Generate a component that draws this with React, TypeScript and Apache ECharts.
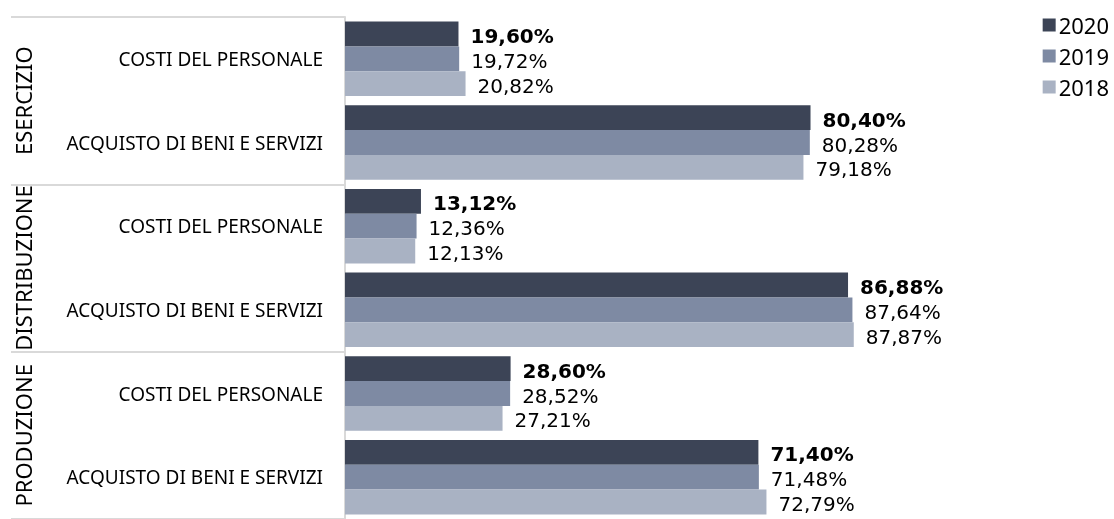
import React, { useEffect, useRef } from "react";
import * as echarts from "echarts";

const groups = ["ESERCIZIO", "DISTRIBUZIONE", "PRODUZIONE"];
const categories = [
  "COSTI DEL PERSONALE",
  "ACQUISTO DI BENI E SERVIZI",
  "COSTI DEL PERSONALE",
  "ACQUISTO DI BENI E SERVIZI",
  "COSTI DEL PERSONALE",
  "ACQUISTO DI BENI E SERVIZI",
];
const seriesNames = ["2020", "2019", "2018"];
const values2020 = [19.6, 80.4, 13.12, 86.88, 28.6, 71.4];
const values2019 = [19.72, 80.28, 12.36, 87.64, 28.52, 71.48];
const values2018 = [20.82, 79.18, 12.13, 87.87, 27.21, 72.79];
const colors = ["#3c4456", "#7e8aa3", "#a9b2c3"];

const FONT = "Noto Sans";
const LABEL_FONT = "DejaVu Sans";

export default function App() {
  const ref = useRef<HTMLDivElement>(null);
  useEffect(() => {
    const chart = echarts.init(ref.current!, null, { renderer: "svg" });
    const fmt = (p: any) => p.value.toFixed(2).replace(".", ",") + "%";
    const allValues = [values2020, values2019, values2018];
    chart.setOption({
      animation: false,
      textStyle: { fontFamily: FONT, color: "#000" },
      legend: {
        orient: "vertical",
        right: 0,
        top: 9,
        itemWidth: 13,
        itemHeight: 13,
        itemGap: 9,
        icon: "rect",
        textStyle: { fontFamily: FONT, fontSize: 22, color: "#000", padding: [0, 0, 0, -2] },
        data: seriesNames,
      },
      grid: { left: 345, top: 17, width: 579, height: 507 },
      xAxis: {
        type: "value",
        min: 0,
        max: 100,
        show: false,
      },
      yAxis: [
        {
          type: "category",
          data: categories,
          inverse: true,
          position: "left",
          axisLine: { show: true, lineStyle: { color: "#d9d9d9", width: 2 } },
          axisTick: { show: false },
          axisLabel: { fontFamily: FONT, fontSize: 19, color: "#000", margin: 22, interval: 0 },
        },
        {
          type: "category",
          data: groups,
          inverse: true,
          position: "left",
          axisLine: { show: false },
          axisTick: { show: true, interval: 0, length: 334, lineStyle: { color: "#d9d9d9", width: 2 } },
          axisLabel: {
            fontFamily: FONT,
            fontSize: 22,
            color: "#000",
            rotate: 90,
            interval: 0,
            hideOverlap: false,
            margin: 311,
          },
        },
      ],
      series: seriesNames.map((name, i) => ({
        name,
        type: "bar",
        yAxisIndex: 0,
        data: allValues[i],
        barGap: "0%",
        barCategoryGap: "11%",
        itemStyle: { color: colors[i] },
        label: {
          show: true,
          position: "right",
          distance: 12,
          offset: [0, 2],
          formatter: fmt,
          fontFamily: LABEL_FONT,
          fontSize: 20,
          lineHeight: 22,
          fontWeight: i === 0 ? "bold" : "normal",
          color: "#000",
        },
      })),
    });
    return () => chart.dispose();
  }, []);
  return (
    <div
      ref={ref}
      style={{ position: "fixed", left: 0, top: 0, width: 1114, height: 519 }}
    />
  );
}
